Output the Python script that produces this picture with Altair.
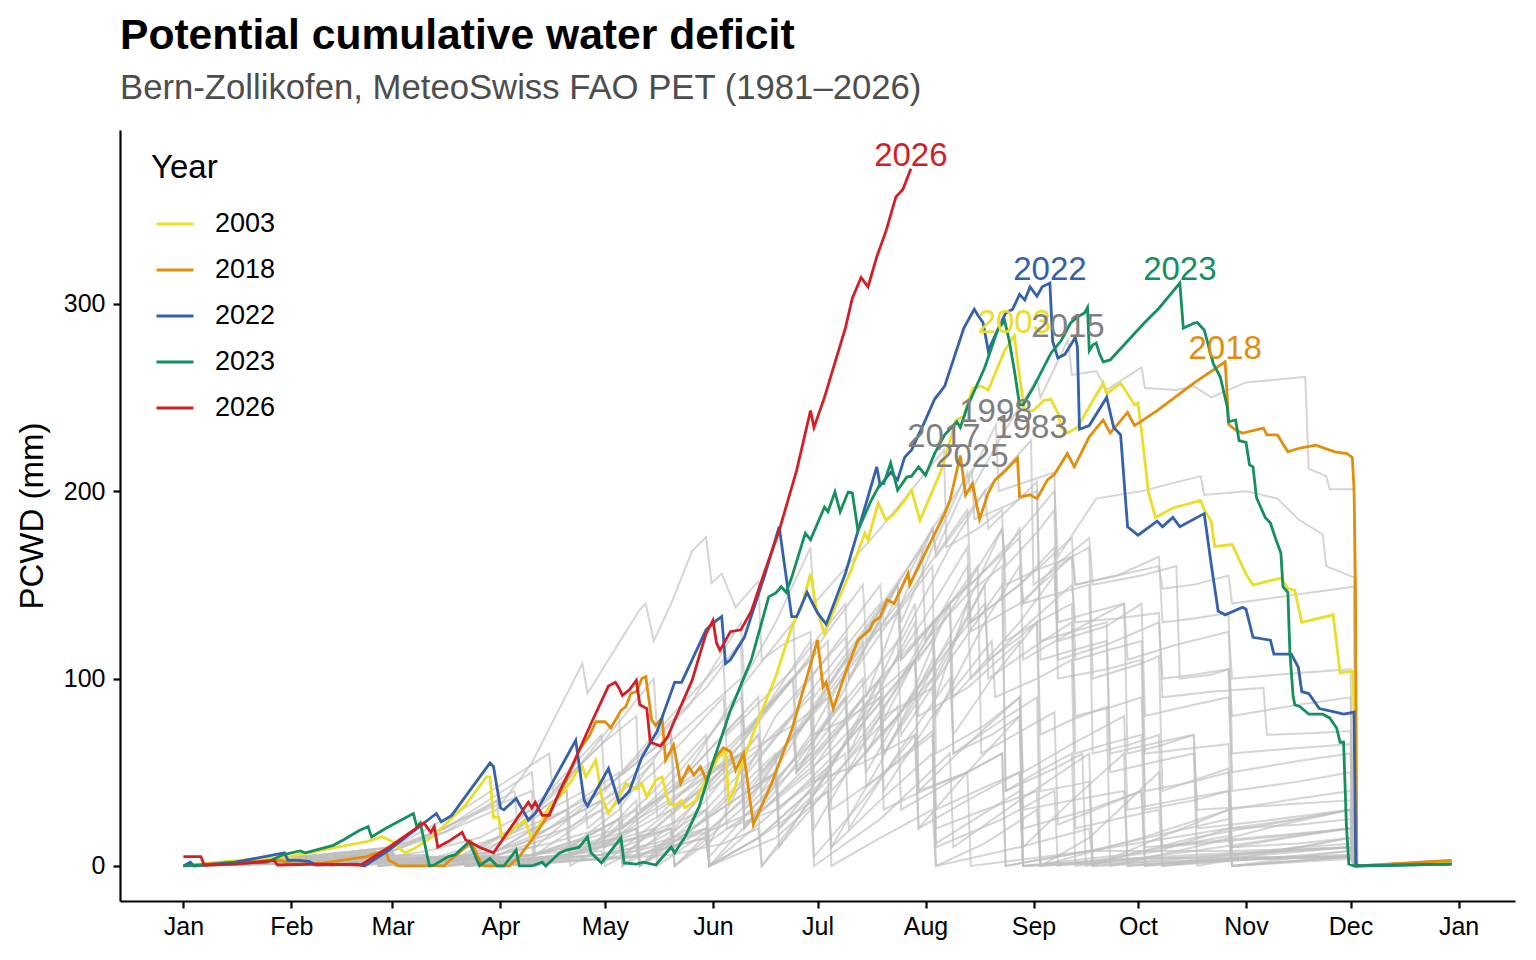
import altair as alt
import pandas as pd

FONT = "Liberation Sans"

MONTH_NAMES = ["Jan", "Feb", "Mar", "Apr", "May", "Jun", "Jul", "Aug", "Sep", "Oct", "Nov", "Dec", "Jan"]
MONTH_DAYS = [0, 31, 60, 91, 121, 152, 182, 213, 244, 274, 305, 335, 366]
Y_TICKS = [0, 100, 200, 300]

HL_YEARS = ["2003", "2018", "2022", "2023", "2026"]
HL_COLORS = ["#EBDD2A", "#E08E0B", "#3461AB", "#14905E", "#D21F26"]
LABEL_HL = ["2026", "2022", "2023", "2003", "2018"]
LABEL_GRAY = [2015, 1998, 1983, 2017, 2025]

# ---- highlighted years: (day of year, PCWD mm) ----
d2003 = [(0,0),(10,2),(30.6,5),(43,9.6),(52.6,13),(57,15.6),(60,13),(63.5,7),(66,9),(71.5,15.6),(74.5,21),(81,32.6),(87,47.5),(88,47.5),(89,26),(90.5,26),(91.6,14),(95.5,21),(98,24.5),(100,14),(105,31.5),(108,37),(111.6,46),(112.6,49.6),(114.5,53),(115.5,47.5),(118.4,56.5),(120,37),(122,28),(125,37),(127,44),(130,41),(131.5,44),(133,37),(135.6,46),(137.4,47.5),(139.3,33.6),(141,32),(143,35),(144,31),(147,35),(150,46),(153.6,58),(155.6,62),(156.5,35),(158,40),(160,53),(165,78),(170,101),(174.6,127.5),(177.4,138),(180,156),(181.6,138),(184,124),(187,138),(191.7,158),(195.6,177.6),(196.5,174),(199.4,193.6),(201.7,184.5),(204,188),(207,195),(209,200.5),(211.4,184.5),(217.5,211),(221.8,238),(224,240),(226.6,255),(229,256),(231,254),(233.7,266),(235.7,275),(238.5,283),(239.5,268),(241.4,243),(244,243),(247,248.5),(249,249),(251,241.6),(252,234),(253.7,231),(256.6,234),(260,245),(264,257.6),(265,252),(269,257.6),(271.7,250),(273,246),(274,247),(275,232),(277,199.5),(279,186),(284,191),(292,195),(293,190),(295,184),(296,170.5),(301,171.5),(305,155.7),(307,150),(315,153.6),(317,148),(319,147),(321,130),(330,134),(332,103),(335.7,104),(336.3,60),(336.6,0),(364,2)]
d2018 = [(0,0),(14,2),(28,3),(31,1),(40,1.5),(52.6,5),(58,8.5),(59,3),(62,0),(75,0),(75.5,1.5),(81,10),(82.6,13),(85,3),(86,0),(93.5,0),(96.4,5),(100,14),(105,28),(110,46),(113.6,62),(116.4,69),(118.4,77),(121,77),(122.7,73.6),(125.6,83),(127,85),(128.4,92),(130,93),(131.6,100),(132.7,101),(134.4,78),(135.5,75),(137.4,79),(138.4,56.5),(140.7,64.5),(142.7,44),(145,53),(146.5,48.5),(148.4,53),(150,46),(152.7,58),(155,63),(157,61),(158.5,51),(160.8,60),(163.6,22),(168.8,44),(174.6,72.5),(182,120.5),(183.6,95.5),(184.5,98),(186.5,84),(190,103),(193.6,120.5),(197,126),(198,130),(200,133),(202,142),(204,140),(208,156),(208.5,150),(213.7,170),(218.5,188),(220,195),(223,219),(224.5,198),(226.5,204),(228.5,185),(231,199),(233,206),(236,211),(239.4,217.6),(240,197),(243,198),(245,196),(248,206),(250,209),(253.7,220),(255.7,213),(260,229),(264,238),(266,231),(271,242),(273,235),(279.5,243),(290,257.6),(299,269),(299.6,250.6),(300,235.7),(302,232.6),(304,231),(310,233.6),(311,230),(314,230),(315,227),(317,221),(320.5,223),(325,224.5),(330.5,221),(334,220),(335.5,218),(336,201),(336.4,150),(336.8,0),(364,3)]
d2022 = [(0,0),(2,2),(3,0),(15,2),(29,7),(30,3),(33,3),(36,2.5),(38,0.5),(50,1),(52,0),(59,8.5),(72.6,28),(74,23.5),(77,27),(88,55),(89,53),(91,31),(92,30),(95.5,36),(99,24.5),(101,28),(112.6,67),(115,35),(116,32),(122,52),(125,34),(128,40),(131.6,58),(136,72),(141,98),(143,98),(146,110),(150,126),(153,131),(154.5,133),(155.6,108),(157,110),(161,122),(167,156),(171,181),(174.6,133),(176,133),(179,146),(182,135),(184.5,129),(190,156),(196.5,197),(199,213),(200,203),(203,210),(205,206),(207,218),(209,222),(213,238),(215.6,249),(218.5,256),(224,287),(227,297),(228,294),(229.5,290),(231,275),(233.7,286),(236,295),(238,297),(240,305),(241.5,302),(243,309),(245,304),(246.5,309),(248.7,311),(249.5,280),(251,271),(253,273),(256,282),(256.6,277),(257.2,233),(260,235),(265,250),(267,234),(269,230),(271,181),(274,176.5),(279.5,184),(281,181),(284,186),(286,181),(293,188),(295,161),(297,136),(299,134),(304,138),(305,137),(307,122),(312,120.5),(313,113),(318,113),(320,106),(321,93),(323,92),(326,84),(331,82),(333,81),(336,82),(336.5,0),(364,1)]
d2023 = [(0,0),(24,2),(28.6,6),(33.5,8),(35,7),(43,11),(46,14),(50.6,19),(53,21),(54,15.5),(58,20),(66,28),(67,21),(68,23),(70.6,0),(72,0.5),(76,5),(78,6),(82,13),(85,0),(88,4),(90,0),(92,0),(95.5,8.5),(96.4,0),(100,0),(103,2),(104,0),(108,7),(110,8.5),(113.6,10),(116,15.5),(117,7),(120,1.6),(125.6,15),(126.5,1.6),(130,1),(132,2),(135.6,0.5),(140,10),(141,7),(144,15.5),(148,31.5),(151.6,53),(157,83),(163,110),(168,143.6),(170,145.6),(171.6,149),(173,146),(174.6,154),(178.5,177.6),(180,174),(184,191.5),(185,189),(187,199.5),(188.5,189),(190.8,199.5),(192,199),(193.6,179),(197.4,195),(200,204),(201,204),(203,215),(205,200.5),(207.6,207.5),(209,208),(211,213),(213,208.5),(215.6,220),(218.5,230),(222,237),(223,234),(225,245),(230,266),(233.7,286),(235.7,291),(237,280.5),(238.5,264.5),(240,246),(241,246),(244,255.5),(249,273.6),(252,280.5),(254.6,289.6),(256.6,293),(258.6,295),(259.5,298),(260,275),(261,278),(262,279),(263,273),(264,269),(266,270),(275.7,289.6),(280,297.6),(286,311),(287,287),(290,289.6),(291,290),(293,286),(295.6,268),(297.6,261),(299.6,245),(300,237),(302,238),(303,227),(305,226),(306,214),(307,213),(308,196.5),(310.5,186),(312,183),(313.5,174.6),(315,167),(315.6,149),(317,146),(317.6,113.6),(318.5,90.7),(319,86),(320.5,85),(323,81),(327,81),(329,79),(331,73.6),(332,66),(333,66),(333.8,22),(334.5,1),(336,0),(364,1)]
d2026 = [(0,5),(5,5),(6,0.5),(15,1),(26,3),(27,0.5),(40,1),(51,0.5),(59,10),(69,23),(71,18),(72,21),(73,10),(76,13),(80,18),(81,14),(85,10),(89,7),(96,26),(99,34),(100,31),(101,34),(103,27),(105,27),(108,40),(112,55),(117,76),(122,96),(124,98),(125,95),(126,91),(128,94),(130,99),(131,86),(133,84),(134,66),(137,64),(139,69),(142,82),(146,99),(150,124),(152,131),(153,119),(154,115),(157,125),(160,126),(163,136),(167,158),(171,179),(176,211),(180,243),(181,234),(184,250),(190,287),(192,303),(194.5,314),(196.5,309),(199,325),(201.7,339),(204.5,357),(206.5,361),(208.8,372)]

# ---- other years (grey) ----
g1981 = [(0,0),(20,2),(40,4),(42,0),(70,3),(95,18),(110,30),(111,5),(135,30),(160,60),(161,22),(180,50),(195,90),(196,42),(215,72),(216,12),(240,40),(241,0),(270,6),(300,16),(301,0),(336,4),(337,0),(364,3)]
g1982 = [(0,0),(30,3),(50,6),(52,1),(80,4),(100,20),(101,6),(120,30),(135,55),(136,26),(160,70),(175,100),(176,70),(190,110),(205,150),(206,110),(220,140),(228,160),(229,60),(250,82),(251,22),(275,40),(276,0),(320,10),(336,12),(337,0),(364,2)]
g1983 = [(0,0),(25,2),(45,5),(60,8),(62,0),(90,6),(105,12),(120,20),(121,2),(140,30),(150,42),(151,12),(170,80),(190,122),(191,100),(205,150),(215,180),(216,165),(230,200),(243.3,227),(244,150),(255,165),(260,170),(261,100),(275,108),(280,112),(281,40),(300,52),(301,0),(334,8),(336,9),(337,0),(364,2)]
g1984 = [(0,0),(30,4),(60,10),(61,0),(85,5),(100,25),(101,0),(118,12),(130,35),(131,0),(150,25),(170,50),(171,20),(190,55),(205,85),(206,30),(220,45),(235,60),(236,0),(260,8),(300,20),(301,0),(336,5),(337,0),(364,2)]
g1985 = [(0,0),(40,2),(70,5),(72,0),(100,4),(120,8),(121,0),(140,18),(150,30),(151,5),(170,45),(190,90),(191,60),(205,95),(220,140),(221,90),(240,130),(250,155),(251,120),(265,128),(275,140),(276,80),(290,86),(300,90),(301,50),(320,56),(335,60),(336,0),(364,1)]
g1986 = [(0,0),(25,3),(60,6),(61,0),(85,5),(110,20),(111,0),(130,22),(160,60),(161,30),(175,70),(190,110),(191,50),(205,80),(220,120),(221,60),(232,70),(240,80),(241,0),(290,6),(334,10),(336,10),(337,0),(364,2)]
g1987 = [(0,0),(50,2),(80,4),(81,0),(120,6),(130,10),(131,0),(150,20),(151,0),(165,15),(180,40),(181,5),(195,35),(210,70),(211,20),(225,50),(240,80),(241,10),(255,35),(270,60),(271,0),(300,4),(335,6),(336,0),(364,1)]
g1988 = [(0,0),(30,3),(55,6),(56,0),(85,4),(100,10),(101,0),(125,25),(126,5),(145,35),(160,60),(161,30),(180,65),(195,100),(196,60),(210,110),(225,160),(226,130),(240,150),(250,170),(251,110),(265,118),(280,130),(281,100),(290,102),(300,105),(301,80),(320,86),(335,90),(336,0),(364,2)]
g1989 = [(0,0),(20,3),(45,7),(60,10),(75,20),(90,35),(91,15),(105,40),(120,70),(121,40),(140,80),(155,110),(156,70),(175,105),(190,140),(191,100),(210,150),(225,190),(226,150),(240,178),(250,200),(251,165),(262,196),(275,200),(292,208),(293,198),(305,200),(314,196),(320,185),(327,177),(328,160),(336,154),(336.5,0),(364,3)]
g1990 = [(0,0),(30,2),(60,5),(61,0),(80,3),(95,20),(110,40),(111,10),(125,30),(140,70),(141,20),(160,65),(180,120),(181,90),(195,125),(212,170),(213,120),(225,145),(235,160),(236,40),(245,50),(255,60),(256,0),(290,8),(334,20),(336,20),(337,0),(364,2)]
g1991 = [(0,0),(35,3),(60,6),(61,0),(100,5),(125,20),(126,0),(145,30),(165,70),(166,40),(185,95),(205,150),(206,120),(220,170),(230,200),(231,180),(245,205),(246,120),(255,125),(265,130),(266,50),(280,56),(290,60),(291,0),(320,10),(335,15),(336,0),(364,2)]
g1992 = [(0,0),(40,3),(70,6),(71,0),(110,8),(125,15),(140,30),(141,10),(160,45),(175,80),(176,50),(190,85),(205,120),(206,70),(220,110),(235,150),(236,40),(250,52),(258,60),(259,0),(290,15),(335,30),(336,0),(364,2)]
g1993 = [(0,0),(30,3),(60,7),(61,0),(90,8),(110,30),(125,50),(126,20),(140,45),(160,90),(161,70),(172,95),(185,120),(186,40),(200,70),(215,100),(216,30),(230,42),(240,50),(241,0),(270,4),(335,5),(336,0),(364,1)]
g1994 = [(0,0),(40,2),(80,5),(81,0),(120,6),(140,20),(141,0),(160,25),(180,60),(181,20),(200,80),(215,130),(216,100),(230,150),(240,180),(241,140),(250,145),(260,150),(261,60),(272,65),(280,70),(281,0),(310,6),(335,10),(336,0),(364,2)]
g1995 = [(0,0),(50,3),(90,5),(91,0),(130,8),(150,18),(165,30),(166,0),(180,35),(195,80),(196,50),(210,95),(220,140),(221,60),(235,78),(245,90),(246,0),(275,15),(300,30),(301,10),(320,16),(335,20),(336,0),(364,2)]
g1996 = [(0,0),(30,3),(60,5),(70,8),(85,15),(100,30),(101,10),(120,40),(140,70),(141,30),(160,65),(175,100),(176,50),(195,85),(210,110),(211,40),(225,65),(240,90),(241,20),(260,30),(275,40),(276,0),(310,4),(335,5),(336,0),(364,1)]
g1997 = [(0,0),(25,2),(55,6),(56,0),(80,5),(100,25),(115,40),(116,20),(135,50),(155,90),(156,60),(168,85),(180,110),(181,60),(200,100),(225,150),(226,125),(240,140),(255,165),(256,150),(268,155),(280,160),(281,148),(290,150),(300,155),(301,140),(320,145),(336,149),(336.5,0),(364,2)]
g1998 = [(0,0),(30,3),(60,6),(61,0),(100,6),(115,15),(125,25),(126,5),(140,28),(160,60),(161,20),(180,70),(195,120),(196,90),(205,135),(215,180),(216,168),(225,205),(233.2,235.4),(234,200),(242,205),(250,210),(251,130),(260,135),(270,140),(271,60),(280,64),(290,70),(291,20),(310,24),(335,30),(336,0),(364,2)]
g1999 = [(0,0),(50,2),(90,4),(91,0),(130,5),(150,15),(151,0),(165,15),(185,40),(186,10),(200,35),(215,60),(216,0),(230,12),(245,30),(246,0),(290,5),(335,10),(336,0),(364,1)]
g2000 = [(0,0),(35,3),(65,6),(66,0),(100,6),(115,15),(130,30),(131,0),(150,30),(165,60),(166,30),(185,60),(200,90),(201,40),(215,80),(232,120),(233,90),(245,100),(255,110),(256,20),(270,26),(280,30),(281,0),(310,4),(335,8),(336,0),(364,2)]
g2001 = [(0,0),(40,2),(75,5),(76,0),(110,6),(135,20),(136,0),(150,18),(170,50),(171,10),(185,50),(200,100),(201,70),(215,105),(230,140),(231,110),(240,122),(245,130),(246,40),(255,43),(260,45),(261,0),(300,6),(335,10),(336,0),(364,2)]
g2002 = [(0,0),(30,4),(55,8),(56,0),(90,8),(105,20),(120,35),(121,15),(135,40),(150,70),(151,40),(165,62),(180,90),(181,45),(195,55),(210,70),(211,20),(225,35),(240,50),(241,0),(290,3),(335,5),(336,0),(364,1)]
g2004 = [(0,0),(35,3),(60,6),(61,0),(90,6),(105,15),(120,30),(121,10),(140,40),(160,80),(161,40),(180,80),(200,130),(201,100),(212,130),(225,170),(226,130),(240,150),(255,175),(256,150),(268,155),(280,165),(281,130),(290,132),(300,135),(301,60),(320,63),(335,65),(336,0),(364,2)]
g2005 = [(0,0),(25,3),(50,6),(51,0),(80,6),(95,20),(110,40),(111,20),(130,50),(160,100),(161,70),(175,100),(195,150),(196,120),(205,135),(215,160),(216,60),(230,75),(240,90),(241,50),(255,65),(270,80),(271,30),(285,35),(300,40),(301,0),(335,5),(336,0),(364,1)]
g2006 = [(0,0),(40,3),(70,6),(71,0),(110,5),(130,20),(131,0),(150,35),(165,70),(166,60),(185,105),(200,140),(201,80),(215,95),(216,20),(230,30),(245,40),(246,0),(260,15),(280,50),(281,10),(310,15),(335,20),(336,0),(364,2)]
g2007 = [(0,0),(25,3),(45,6),(60,10),(75,18),(90,30),(100,55),(114.5,108),(116,92),(122,110),(130.7,136),(132.7,140),(135,120),(140,140),(146,168),(150,175.5),(151.6,151),(154.5,156),(158.5,138),(165,152),(166,110),(172,118),(180,125),(181,70),(190,78),(200,90),(201,30),(212,40),(225,50),(226,0),(260,8),(300,8),(335,10),(336,0),(364,2)]
g2008 = [(0,0),(40,2),(75,5),(76,0),(100,6),(115,12),(130,20),(131,0),(150,25),(170,60),(171,30),(190,65),(210,110),(211,80),(225,95),(240,120),(241,30),(255,35),(270,40),(271,0),(300,4),(335,5),(336,0),(364,1)]
g2009 = [(0,0),(30,3),(60,6),(61,0),(90,5),(105,20),(125,40),(126,20),(145,50),(165,90),(166,50),(185,90),(205,140),(206,110),(220,140),(240,175),(241,110),(255,125),(270,140),(271,110),(285,118),(300,125),(301,100),(320,103),(335,105),(336,0),(364,2)]
g2010 = [(0,0),(45,3),(80,5),(81,0),(110,5),(130,15),(150,30),(151,0),(170,40),(190,90),(191,60),(200,95),(210,130),(211,40),(225,50),(235,60),(236,0),(260,8),(300,25),(301,5),(320,10),(335,15),(336,0),(364,2)]
g2011 = [(0,0),(20,3),(40,6),(60,8),(75,20),(90,38),(100,50),(101,30),(120,65),(135,100),(136,70),(150,95),(160,120),(161,60),(175,75),(185,90),(186,30),(200,48),(215,70),(216,10),(235,25),(250,40),(251,0),(280,8),(300,20),(320,25),(335,30),(336,0),(364,2)]
g2012 = [(0,0),(30,3),(55,6),(56,0),(100,6),(125,15),(126,0),(150,25),(170,50),(171,20),(190,65),(215,120),(216,90),(225,140),(235,180),(236,150),(245,158),(255,165),(256,110),(265,115),(275,120),(276,60),(290,63),(300,65),(301,20),(320,22),(335,25),(336,0),(364,2)]
g2013 = [(0,0),(45,2),(90,5),(91,0),(140,6),(155,12),(165,20),(166,0),(180,30),(200,80),(201,60),(212,95),(225,140),(226,100),(240,125),(255,150),(256,130),(268,132),(280,135),(281,90),(295,93),(310,95),(311,70),(325,71),(335,72),(336,0),(364,2)]
g2014 = [(0,0),(30,3),(60,7),(61,0),(90,8),(105,25),(120,40),(121,15),(140,40),(155,60),(156,20),(170,30),(185,50),(186,0),(200,15),(215,30),(216,0),(240,10),(260,20),(261,0),(300,3),(335,5),(336,0),(364,1)]
g2015 = [(0,0),(40,2),(80,5),(81,0),(110,6),(125,12),(140,20),(141,0),(160,30),(175,70),(176,50),(190,95),(205,150),(206,130),(215,170),(225,210),(226,200),(235,230),(245,260),(246,250),(253.9,280.8),(255,262),(262,264),(265,254),(275,266),(276,255),(285,254),(290,256),(295,250),(305,258),(322,261),(323,212),(328,208),(329,201),(336,201),(336.5,0),(364,3)]
g2016 = [(0,0),(50,3),(90,5),(91,0),(130,6),(150,15),(151,0),(170,15),(185,40),(186,10),(200,55),(215,110),(216,80),(230,130),(240,160),(241,140),(250,160),(260,175),(261,150),(275,155),(285,160),(286,100),(295,102),(300,105),(301,40),(320,45),(335,50),(336,0),(364,2)]
g2017 = [(0,0),(25,3),(45,5),(60,8),(75,18),(95,40),(96,20),(110,45),(125,80),(126,50),(145,85),(160,130),(161,100),(170,130),(180,170),(181,140),(200,180),(218.3,222),(219,170),(228,180),(235,190),(236,120),(245,130),(255,140),(256,80),(265,84),(275,90),(276,40),(290,45),(300,50),(301,10),(320,12),(335,15),(336,0),(364,2)]
g2019 = [(0,0),(40,2),(75,5),(76,0),(110,6),(140,20),(141,0),(160,35),(180,80),(181,40),(195,80),(210,140),(211,110),(225,150),(235,180),(236,160),(245,178),(250,190),(251,100),(265,105),(275,110),(276,30),(290,35),(300,40),(301,0),(335,5),(336,0),(364,1)]
g2020 = [(0,0),(20,3),(40,6),(60,10),(80,30),(95,48),(105,60),(106,40),(120,65),(130,80),(131,30),(145,45),(160,60),(161,20),(180,55),(200,100),(201,60),(215,100),(230,150),(231,100),(245,118),(255,130),(256,60),(265,65),(275,70),(276,10),(300,14),(335,20),(336,0),(364,2)]
g2021 = [(0,0),(40,2),(80,4),(81,0),(130,5),(150,20),(151,0),(165,15),(180,40),(181,0),(200,25),(220,60),(221,10),(240,35),(260,60),(261,0),(280,15),(300,30),(320,36),(335,40),(336,0),(364,2)]
g2024 = [(0,0),(35,2),(70,4),(71,0),(120,6),(135,12),(150,20),(151,0),(170,30),(190,60),(191,20),(205,60),(220,100),(221,70),(232,100),(245,130),(246,70),(255,78),(265,85),(266,0),(290,10),(315,22),(335,30),(336,0),(364,2)]
g2025 = [(0,0),(25,3),(45,5),(60,8),(80,25),(100,40),(101,15),(120,40),(140,70),(141,40),(160,95),(175,130),(176,90),(188,120),(200,150),(201,130),(215,180),(226.3,211.4),(227,185),(236,192),(245,200),(246,110),(255,115),(265,120),(266,60),(280,66),(290,70),(291,30),(310,32),(335,35),(336,0),(364,2)]

HL_SERIES = {"2003": d2003, "2018": d2018, "2022": d2022, "2023": d2023, "2026": d2026}
GRAY_SERIES = {
    1981: g1981, 1982: g1982, 1983: g1983, 1984: g1984, 1985: g1985, 1986: g1986,
    1987: g1987, 1988: g1988, 1989: g1989, 1990: g1990, 1991: g1991, 1992: g1992,
    1993: g1993, 1994: g1994, 1995: g1995, 1996: g1996, 1997: g1997, 1998: g1998,
    1999: g1999, 2000: g2000, 2001: g2001, 2002: g2002, 2004: g2004, 2005: g2005,
    2006: g2006, 2007: g2007, 2008: g2008, 2009: g2009, 2010: g2010, 2011: g2011,
    2012: g2012, 2013: g2013, 2014: g2014, 2015: g2015, 2016: g2016, 2017: g2017,
    2019: g2019, 2020: g2020, 2021: g2021, 2024: g2024, 2025: g2025,
}

gray_rows = [(str(yr), d, v) for yr, pts in GRAY_SERIES.items() for d, v in pts]
gray_df = pd.DataFrame(gray_rows, columns=["year", "day", "pcwd"])
hl_rows = [(yr, d, v) for yr, pts in HL_SERIES.items() for d, v in pts]
hl_df = pd.DataFrame(hl_rows, columns=["year", "day", "pcwd"])


def peak(pts):
    return max(pts, key=lambda p: p[1])


hl_lab = pd.DataFrame([(yr,) + peak(HL_SERIES[yr]) for yr in LABEL_HL], columns=["year", "day", "pcwd"])
gray_lab = pd.DataFrame([(str(yr),) + peak(GRAY_SERIES[yr]) for yr in LABEL_GRAY], columns=["year", "day", "pcwd"])

label_expr = "{}[indexof({}, datum.value)]".format(
    "[" + ",".join("'%s'" % m for m in MONTH_NAMES) + "]",
    "[" + ",".join(str(d) for d in MONTH_DAYS) + "]",
)

AX = dict(grid=False, domainColor="black", domainWidth=2.2, tickColor="black", tickWidth=2.2, tickSize=7,
          labelFont=FONT, labelFontSize=25, labelColor="black",
          titleFont=FONT, titleFontSize=33, titleFontWeight="normal", titleColor="black")

xenc = alt.X("day:Q", scale=alt.Scale(domain=[-18.2, 382.2], nice=False, zero=False),
             axis=alt.Axis(values=MONTH_DAYS, labelExpr=label_expr, title=None, labelPadding=6, **AX))
yenc = alt.Y("pcwd:Q", scale=alt.Scale(domain=[-18.7, 392.7], nice=False, zero=False),
             axis=alt.Axis(values=Y_TICKS, title="PCWD (mm)", labelPadding=8, titlePadding=14, **AX))

color_scale = alt.Scale(domain=HL_YEARS, range=HL_COLORS)

gray = alt.Chart(gray_df).mark_line(color="#BEBEBE", strokeWidth=2.0, opacity=0.65).encode(
    x=xenc, y=yenc, detail="year:N", order="day:Q")

hl = alt.Chart(hl_df).mark_line(strokeWidth=2.8).encode(
    x=xenc, y=yenc, order="day:Q",
    color=alt.Color("year:N", scale=color_scale, legend=alt.Legend(
        title="Year", orient="none", legendX=31, legendY=22, direction="vertical",
        symbolType="stroke", symbolSize=1369, symbolStrokeWidth=3, symbolOffset=4,
        labelFontSize=27, titleFontSize=33, titleFontWeight="normal",
        labelOffset=20, rowPadding=13, titlePadding=19, padding=0,
        labelFont=FONT, titleFont=FONT, labelColor="black", titleColor="black")))

hl_text = alt.Chart(hl_lab).mark_text(font=FONT, fontSize=33, baseline="alphabetic", dy=-3).encode(
    x=xenc, y=yenc, text="year:N",
    color=alt.Color("year:N", scale=color_scale, legend=None))

gray_text = alt.Chart(gray_lab).mark_text(font=FONT, fontSize=33, baseline="alphabetic", dy=-3,
                                          color="#7F7F7F").encode(x=xenc, y=yenc, text="year:N")

chart = alt.layer(gray, hl, hl_text, gray_text).properties(
    width=1395, height=771,
    background="white",
    padding={"left": 112, "top": 122, "right": 13, "bottom": 51},
    autosize=alt.AutoSizeParams(type="none"),
    title=alt.TitleParams(
        text="Potential cumulative water deficit",
        subtitle="Bern-Zollikofen, MeteoSwiss FAO PET (1981\u20132026)",
        anchor="start", frame="group", font=FONT, fontSize=42.6, fontWeight="bold", color="black",
        subtitleFont=FONT, subtitleFontSize=34.7, subtitleColor="#4D4D4D", subtitlePadding=15, offset=24),
).configure_view(stroke=None)

chart.save("out.html", embed_options={"renderer": "svg", "actions": False})
